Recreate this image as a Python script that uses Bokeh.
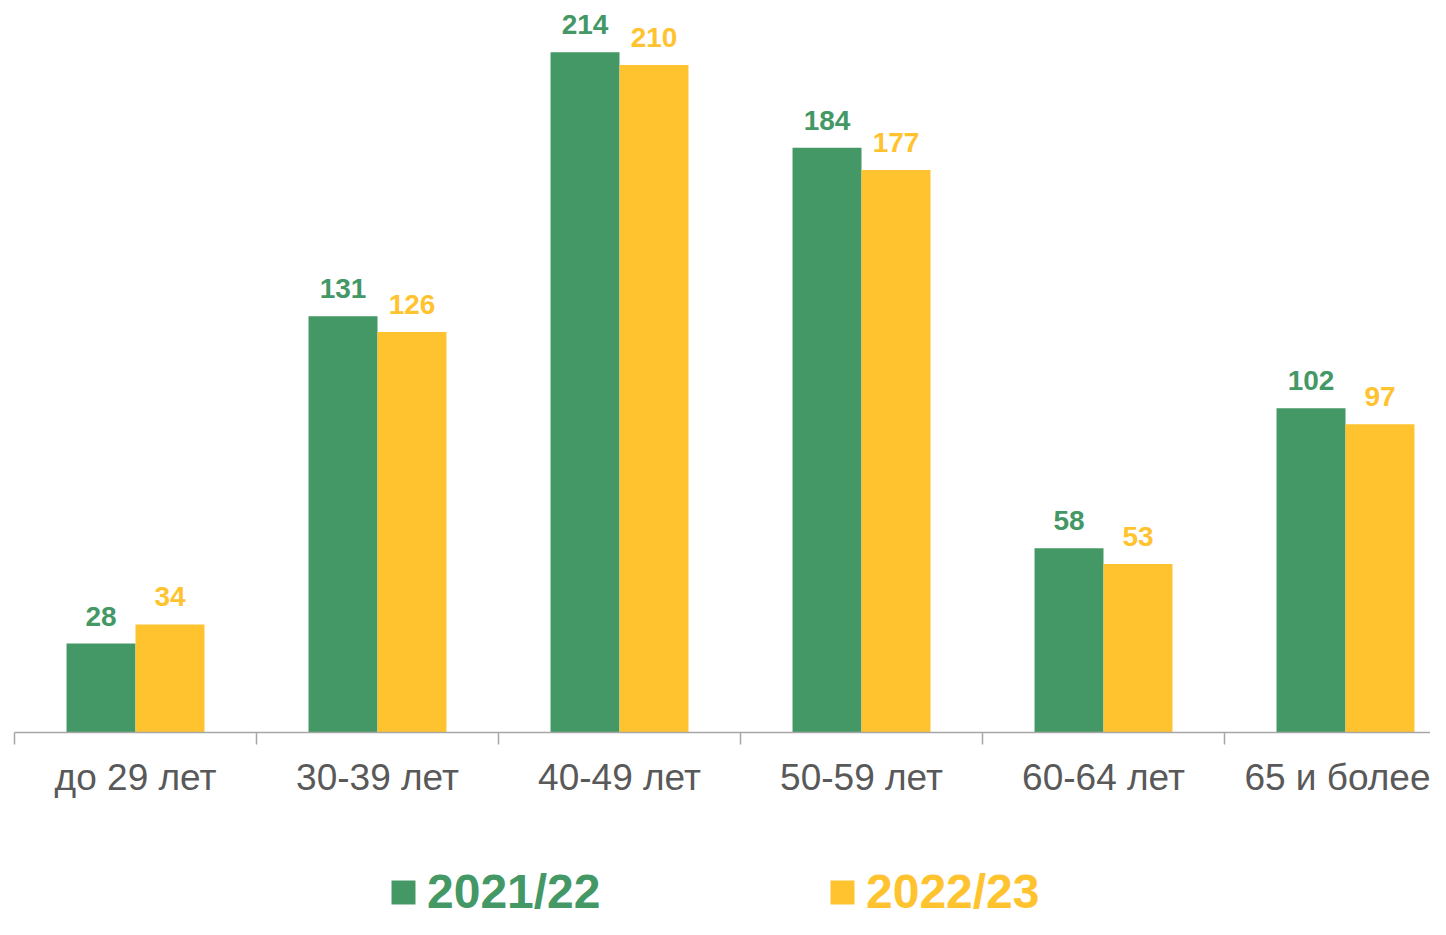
import numpy as np
from bokeh.plotting import figure
from bokeh.layouts import column
from bokeh.models import (ColumnDataSource, Range1d, FixedTicker, LabelSet,
                          Legend, LegendItem)
from bokeh.core.properties import value
from bokeh.embed import file_html
from bokeh.resources import INLINE

categories = ["до 29 лет", "30-39 лет", "40-49 лет", "50-59 лет", "60-64 лет", "65 и более"]
series_names = ["2021/22", "2022/23"]
values_2021 = [28, 131, 214, 184, 58, 102]
values_2022 = [34, 126, 210, 177, 53, 97]

GREEN = "#449866"
YELLOW = "#FFC32F"
FONT = "Liberation Sans"

centers = np.arange(len(categories)) + 0.5
src = ColumnDataSource(dict(
    x1=centers - 0.1425, x2=centers + 0.1425,
    v1=values_2021, v2=values_2022,
    t1=[str(v) for v in values_2021], t2=[str(v) for v in values_2022],
))

p = figure(width=1430, height=859, output_backend="svg", toolbar_location=None,
           x_range=Range1d(0, 1416 / 242), y_range=Range1d(0, 227.8),
           min_border_left=14, min_border_right=0, min_border_top=8,
           min_border_bottom=127)
p.outline_line_color = None
p.xgrid.visible = False
p.ygrid.visible = False
p.yaxis.visible = False
p.background_fill_color = "white"

r1 = p.vbar(x="x1", top="v1", width=0.285, source=src, fill_color=GREEN, line_color=None)
r2 = p.vbar(x="x2", top="v2", width=0.285, source=src, fill_color=YELLOW, line_color=None)

for xs, ys, ts, col in (("x1", "v1", "t1", GREEN), ("x2", "v2", "t2", YELLOW)):
    p.add_layout(LabelSet(x=xs, y=ys, text=ts, source=src, text_align="center",
                          text_baseline="alphabetic", y_offset=18,
                          text_font=value(FONT), text_font_size="28px",
                          text_font_style="bold", text_color=col))

ax = p.xaxis[0]
ax.ticker = FixedTicker(ticks=list(centers), minor_ticks=list(range(len(categories) + 1)))
ax.major_label_overrides = {float(c): lab for c, lab in zip(centers, categories)}
ax.major_tick_line_color = None
ax.major_tick_out = 0
ax.major_tick_in = 0
ax.minor_tick_line_color = "#A6A6A6"
ax.minor_tick_line_width = 1.5
ax.minor_tick_out = 12
ax.minor_tick_in = 0
ax.axis_line_color = "#A6A6A6"
ax.axis_line_width = 1.5
ax.major_label_text_font = FONT
ax.major_label_text_font_size = "37px"
ax.major_label_text_color = "#595959"
ax.major_label_standoff = 12

# legend strip (zero-height proxy bars give the legend its swatches)
lg = figure(width=1430, height=60, output_backend="svg", toolbar_location=None,
            x_range=Range1d(0, 1), y_range=Range1d(0, 1),
            min_border_left=0, min_border_right=0, min_border_top=0, min_border_bottom=0)
lg.outline_line_color = None
lg.xaxis.visible = False
lg.yaxis.visible = False
lg.xgrid.visible = False
lg.ygrid.visible = False
d1 = lg.vbar(x=[0.5], top=[0], bottom=[0], width=0.1, fill_color=GREEN, line_color=None)
d2 = lg.vbar(x=[0.5], top=[0], bottom=[0], width=0.1, fill_color=YELLOW, line_color=None)

for r, name, col, xloc in ((d1, series_names[0], GREEN, 374), (d2, series_names[1], YELLOW, 813)):
    leg = Legend(items=[LegendItem(label=name, renderers=[r])], location=(xloc, 0),
                 orientation="horizontal", label_text_font=FONT,
                 label_text_font_size="48px", label_text_font_style="bold",
                 label_text_color=col, glyph_width=30, glyph_height=30,
                 label_standoff=9, padding=0, margin=0, border_line_color=None,
                 background_fill_alpha=0, label_height=48)
    lg.add_layout(leg, "center")

layout = column(p, lg, spacing=0)
open("out.html", "w").write(file_html(layout, INLINE))
